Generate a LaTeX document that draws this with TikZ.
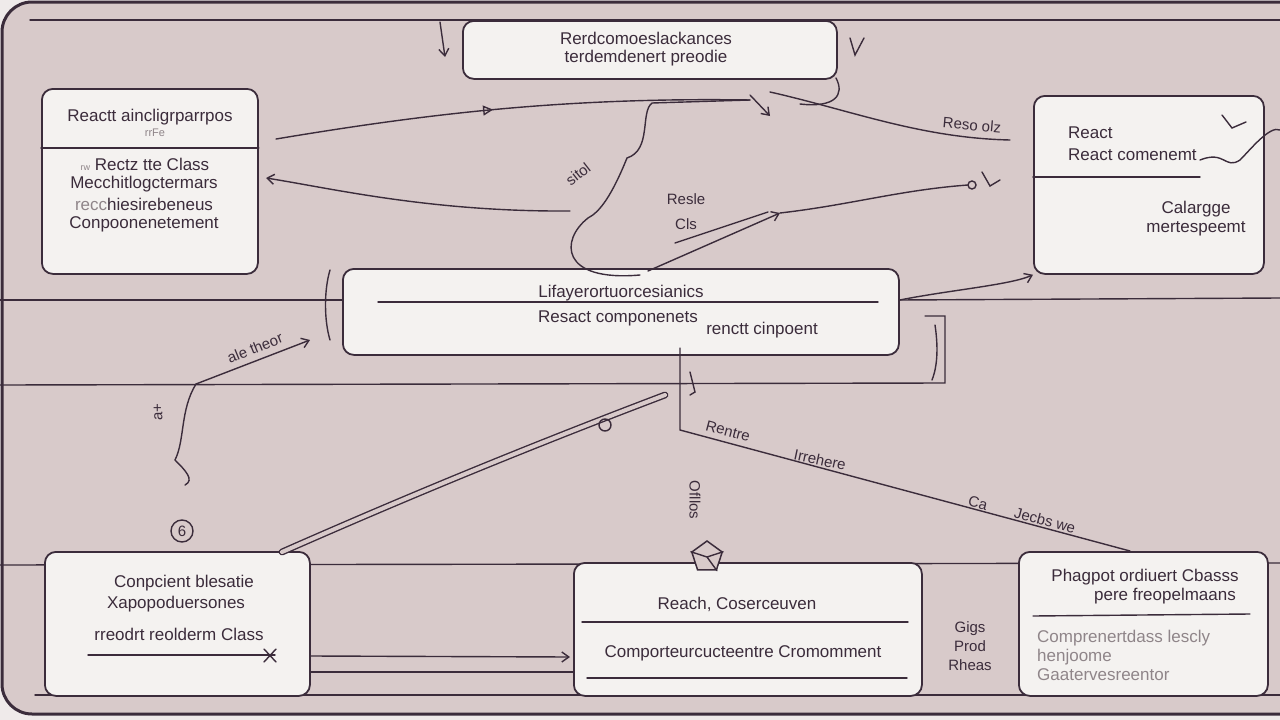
\documentclass[tikz,border=0pt]{standalone}
\usepackage{fontspec}
\setmainfont{Liberation Sans}
\usepackage[svgnames,x11names]{xcolor}
\usetikzlibrary{arrows.meta,positioning,calc,shapes.geometric,decorations.markings}
\definecolor{Ink}{HTML}{3B2C3B}
\definecolor{Mauve}{HTML}{D8CACA}
\definecolor{Outer}{HTML}{EFEAEA}
\definecolor{Paper}{HTML}{F4F2F0}
\definecolor{Faint}{HTML}{8F8589}

\begin{document}
\begin{tikzpicture}[x=1pt,y=-1pt,
	card/.style={
		draw=Ink,
		line width=1.8pt,
		fill=Paper,
		rounded corners=11pt,
		anchor=north west,
		inner sep=0pt
	},
	txt/.style={text=Ink, font=\fontsize{17}{18}\selectfont, inner sep=0pt},
	note/.style={text=Ink, font=\fontsize{15}{19}\selectfont, inner sep=0pt},
	wire/.style={draw=Ink, line width=1.4pt, line cap=round},
	tip/.style={-{Straight Barb[length=7pt,width=10pt]}},
	]
	\useasboundingbox (0,0) rectangle (1280,720);
	\fill[Outer] (0,0) rectangle (1280,720);
	\draw[fill=Mauve, draw=Ink, line width=3pt, rounded corners=30pt] (2,2) rectangle (1330,714);
	
	\draw[wire] (30,20) -- (1280,20);
	\draw[wire] (0,300) -- (342,300);
	\draw[wire] (898,300) -- (1280,298);
	\draw[wire] (0,385) -- (945,383) -- (945,316) -- (925,316);
	\draw[wire] (0,565) -- (1280,563);
	\draw[wire] (35,695) -- (1280,695);
	\draw[wire] (309,672) -- (573,672);
	
	\node[card, minimum width=374pt, minimum height=58pt] (top) at (462,20) {};
	\node[card, minimum width=216pt, minimum height=185pt] (lbox) at (41,88) {};
	\node[card, minimum width=230pt, minimum height=178pt] (rbox) at (1033,95) {};
	\node[card, minimum width=556pt, minimum height=86pt] (mid) at (342,268) {};
	\node[card, minimum width=265pt, minimum height=144pt] (bl) at (44,551) {};
	\node[card, minimum width=348pt, minimum height=133pt] (bc) at (573,562) {};
	\node[card, minimum width=249pt, minimum height=144pt] (br) at (1018,551) {};
	
	\draw[wire] (lbox.west |- 0,148) -- (lbox.east |- 0,148);
	\draw[wire] (1033,177) -- (1200,177);
	\draw[wire] (378,302) -- (878,302);
	\draw[wire] (582,622) -- (908,622);
	\draw[wire] (587,678) -- (907,678);
	\draw[wire] (1033,616) -- (1250,614);
	\draw[wire] (88,655) -- (275,655);
	
	\node[txt, align=center] (topt) at (646,49) {Rerdcomoeslackances\\terdemdenert preodie};
	\node[txt] (lh) at (150,117) {Reactt aincligrparrpos};
	\node[note, font=\fontsize{11}{12}\selectfont, text=Faint] (lh2) at (155,133) {rrFe};
	\node[txt] (l1) at (145,164) {\textcolor{Faint}{\small rw} Rectz tte Class};
	\node[txt] (l2) at (144,184) {Mecchitlogctermars};
	\node[txt] (l3) at (144,204) {\textcolor{Faint}{recc}hiesirebeneus};
	\node[txt] (l4) at (144,224) {Conpoonenetement};
	
	\node[txt, anchor=west] (r1) at (1068,133) {React};
	\node[txt, anchor=west] (r2) at (1068,155) {React comenemt};
	\node[txt] (r3) at (1196,209) {Calargge};
	\node[txt] (r4) at (1196,229) {mertespeemt};
	
	\node[txt] (m1) at (621,293) {Lifayerortuorcesianics};
	\node[txt] (m2) at (618,318) {Resact componenets};
	\node[txt] (m3) at (762,330) {renctt cinpoent};
	
	\node[txt] (b1) at (184,583) {Conpcient blesatie};
	\node[txt] (b2) at (176,604) {Xapopoduersones};
	\node[txt] (b3) at (179,634) {rreodrt reolderm Class};
	\node[txt] (c1) at (737,604) {Reach, Coserceuven};
	\node[txt] (c2) at (743,653) {Comporteurcucteentre Cromomment};
	\node[txt] (d1) at (1145,577) {Phagpot ordiuert Cbasss};
	\node[txt] (d2) at (1165,596) {pere freopelmaans};
	\node[txt, text=Faint, anchor=west] (d3) at (1037,638) {Comprenertdass lescly};
	\node[txt, text=Faint, anchor=west] (d4) at (1037,657) {henjoome};
	\node[txt, text=Faint, anchor=west] (d5) at (1037,675) {Gaatervesreentor};
	
	\coordinate (p1) at (276,139);
	\coordinate (p2) at (750,100);
	\coordinate (p3) at (570,211);
	\coordinate (p4) at (266,178);
	\coordinate (p5) at (770,92);
	\coordinate (p6) at (1010,140);
	\coordinate (p7) at (648,271);
	\coordinate (p8) at (780,213);
	\coordinate (p9) at (968,185);
	\coordinate (q1) at (680,348);
	\coordinate (q2) at (680,430);
	\coordinate (q3) at (665,395);
	\coordinate (q4) at (282,552);
	\coordinate (q5) at (196,384);
	\coordinate (q6) at (310,340);
	\coordinate (q7) at (440,22);
	
	\draw[wire, postaction={decorate, decoration={markings,
		mark=at position 0.46 with {\arrow{Triangle[open,length=10pt,width=10pt]}}}}]
		(p1) .. controls (420,115) and (560,97) .. (p2);
	\draw[wire, tip] (p3) .. controls (430,212) and (330,188) .. (p4);
	\draw[wire] (p5) .. controls (850,110) and (920,138) .. (p6);
	\draw[wire] (p2) -- (652,103) .. controls (640,112) and (652,150) .. (627,158)
		.. controls (612,195) and (600,212) .. (588,218)
		.. controls (560,240) and (560,282) .. (640,275);
	\draw[wire] (836,78) .. controls (845,95) and (835,108) .. (800,104);
	\draw[wire, tip] (750,95) -- (770,116);
	\draw[wire, tip] (p7) -- (p8);
	\draw[wire] (675,243) -- (768,212);
	\draw[wire] (p8) .. controls (850,205) and (900,190) .. (p9);
	\draw[wire] (972,185) circle (4);
	\draw[wire] (982,172) -- (990,186) -- (1000,180);
	\draw[wire, tip] (mid.east |- 0,300) .. controls (950,290) and (1010,285) .. (rbox.south west);
	\draw[wire] (q1) -- (q2) -- (br.north west -| 1130,0);
	\draw[wire, double=Mauve, double distance=4pt] (q3) .. controls (520,450) and (400,500) .. (q4);
	\draw[wire] (605,425) circle (6);
	\draw[wire, tip] (q5) -- (q6);
	\draw[wire] (q5) .. controls (180,410) and (185,440) .. (175,460) .. controls (185,470) and (195,480) .. (185,485);
	\draw[wire, tip] (q7) -- (445,57);
	\draw[wire, tip] (bl.east |- 0,656) -- (570,657);
	\draw[wire] (330,270) .. controls (324,290) and (324,320) .. (330,340);
	\draw[wire] (935,325) .. controls (938,345) and (938,365) .. (932,380);
	\draw[wire] (850,38) -- (855,55) -- (864,38);
	\draw[wire] (1200,160) .. controls (1225,150) and (1225,170) .. (1240,160) .. controls (1250,150) and (1270,125) .. (1280,130);
	\draw[wire] (1222,115) -- (1232,128) -- (1246,122);
	\draw[wire] (264,649) -- (276,662) (276,649) -- (264,662);
	\draw[wire] (690,372) -- (695,392) -- (690,395);
	
	\node[regular polygon, regular polygon sides=5, draw=Ink, line width=1.5pt, minimum size=32pt, fill=Mauve] (gem) at (707,557) {};
	\draw[wire] (gem.corner 2) -- (gem.center) -- (gem.corner 5) (gem.center) -- (gem.corner 4);
	\node[draw=Ink, line width=1.4pt, circle, minimum size=22pt, inner sep=0pt, note] (six) at (182,531) {6};
	
	\node[note, rotate=-5] at (972,125) {Reso olz};
	\node[note] at (686,199) {Resle};
	\node[note] at (686,224) {Cls};
	\node[note, rotate=38] at (578,174) {sitol};
	\node[note, rotate=22] at (255,348) {ale theor};
	\node[note, rotate=-15] at (728,431) {Rentre};
	\node[note, rotate=-12] at (820,460) {Irrehere};
	\node[note, rotate=-15] at (978,503) {Ca};
	\node[note, rotate=-15] at (1045,520) {Jecbs we};
	\node[note, rotate=-90] at (695,500) {Ofllos};
	\node[note, align=center] at (970,646) {Gigs\\Prod\\Rheas};
	\node[note, rotate=90] at (158,412) {a+};
\end{tikzpicture}
\end{document}
